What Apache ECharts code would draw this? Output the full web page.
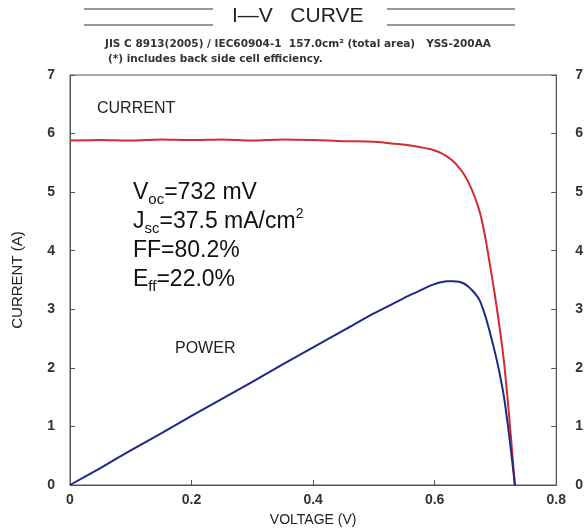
<!DOCTYPE html>
<html>
<head>
<meta charset="utf-8">
<style>
  html, body { margin: 0; padding: 0; background: #fff; }
  #chart { width: 586px; height: 532px; }
</style>
<script src="https://cdn.jsdelivr.net/npm/echarts@6/dist/echarts.min.js"></script>
</head>
<body>
<div id="chart"></div>
<script>
// values
const voltage = [0, 0.05, 0.10, 0.15, 0.20, 0.25, 0.30, 0.35, 0.40, 0.45, 0.50, 0.54, 0.56, 0.58, 0.59, 0.60, 0.61, 0.62, 0.63, 0.64, 0.648, 0.655, 0.662, 0.67, 0.675, 0.68, 0.685, 0.69, 0.695, 0.70, 0.705, 0.71, 0.714, 0.717, 0.721, 0.725, 0.729, 0.732];
const current = [5.88, 5.89, 5.88, 5.90, 5.89, 5.90, 5.88, 5.90, 5.89, 5.87, 5.86, 5.82, 5.795, 5.76, 5.74, 5.71, 5.67, 5.61, 5.53, 5.42, 5.31, 5.18, 5.02, 4.80, 4.63, 4.40, 4.13, 3.82, 3.51, 3.18, 2.83, 2.45, 2.11, 1.80, 1.36, 0.88, 0.38, 0];
const power = [0, 0.29, 0.59, 0.88, 1.18, 1.47, 1.76, 2.06, 2.35, 2.64, 2.93, 3.14, 3.245, 3.34, 3.39, 3.43, 3.46, 3.48, 3.48, 3.47, 3.44, 3.39, 3.32, 3.22, 3.13, 2.99, 2.83, 2.64, 2.44, 2.23, 2.00, 1.74, 1.51, 1.29, 0.98, 0.64, 0.28, 0];

const xTicks = [0, 0.2, 0.4, 0.6, 0.8];
const yTicks = [0, 1, 2, 3, 4, 5, 6, 7];

const chart = echarts.init(document.getElementById('chart'));

const font = 'Arial, "Liberation Sans", sans-serif';
const wideFont = '"DejaVu Sans", sans-serif';
const axisColor = '#555';
const labelStyle = { color: '#333', fontSize: 14, fontWeight: 'bold', fontFamily: font };

function pairs(ys) {
    return voltage.map((v, i) => [v, ys[i]]);
}

const option = {
    animation: false,
    backgroundColor: '#fff',
    grid: {
        left: 70, right: 29, top: 75, bottom: 46,
        show: true, borderColor: axisColor, borderWidth: 1
    },
    xAxis: {
        type: 'value',
        min: xTicks[0], max: xTicks[xTicks.length - 1], interval: 0.2,
        name: 'VOLTAGE (V)', nameLocation: 'middle', nameGap: 28,
        nameTextStyle: { color: '#222', fontSize: 14, fontFamily: font },
        axisLine: { show: true, lineStyle: { color: axisColor } },
        axisTick: { show: true, inside: true, length: 5, lineStyle: { color: axisColor } },
        axisLabel: Object.assign({ margin: 8 }, labelStyle),
        splitLine: { show: false }
    },
    yAxis: [
        {
            type: 'value', position: 'left',
            min: yTicks[0], max: yTicks[yTicks.length - 1], interval: 1,
            name: 'CURRENT (A)', nameLocation: 'middle', nameGap: 45, nameRotate: 90,
            nameTextStyle: { color: '#222', fontSize: 15, fontFamily: font },
            axisLine: { show: true, lineStyle: { color: axisColor } },
            axisTick: { show: true, inside: true, length: 5, lineStyle: { color: axisColor } },
            axisLabel: Object.assign({ margin: 15 }, labelStyle),
            splitLine: { show: false }
        },
        {
            type: 'value', position: 'right',
            min: yTicks[0], max: yTicks[yTicks.length - 1], interval: 1,
            axisLine: { show: true, lineStyle: { color: axisColor } },
            axisTick: { show: true, inside: true, length: 5, lineStyle: { color: axisColor } },
            axisLabel: Object.assign({ margin: 19 }, labelStyle),
            splitLine: { show: false }
        }
    ],
    series: [
        {
            name: 'CURRENT', type: 'line', data: pairs(current),
            showSymbol: false, smooth: 0.25,
            lineStyle: { color: '#d22b30', width: 2 }
        },
        {
            name: 'POWER', type: 'line', data: pairs(power),
            showSymbol: false, smooth: 0.25,
            lineStyle: { color: '#1c2a85', width: 2 }
        }
    ],
    graphic: [
        // title with double rules on each side
        { type: 'line', shape: { x1: 84, y1: 9, x2: 213, y2: 9 }, style: { stroke: '#333', lineWidth: 1.2 } },
        { type: 'line', shape: { x1: 84, y1: 25, x2: 213, y2: 25 }, style: { stroke: '#333', lineWidth: 1.2 } },
        { type: 'line', shape: { x1: 387, y1: 9, x2: 515, y2: 9 }, style: { stroke: '#333', lineWidth: 1.2 } },
        { type: 'line', shape: { x1: 387, y1: 25, x2: 515, y2: 25 }, style: { stroke: '#333', lineWidth: 1.2 } },
        {
            type: 'text', left: 232, top: 6,
            style: { text: 'I—V   CURVE', fill: '#222', font: '21px ' + font }
        },
        {
            type: 'text', left: 105, top: 39,
            style: { text: 'JIS C 8913(2005) / IEC60904-1  157.0cm² (total area)   YSS-200AA', fill: '#333', font: 'bold 10.5px ' + wideFont }
        },
        {
            type: 'text', left: 108, top: 54,
            style: { text: '(*) includes back side cell efficiency.', fill: '#333', font: 'bold 10.5px ' + wideFont }
        },
        {
            type: 'text', left: 97, top: 101,
            style: { text: 'CURRENT', fill: '#222', font: '16px ' + font }
        },
        {
            type: 'text', left: 175, top: 341,
            style: { text: 'POWER', fill: '#222', font: '16px ' + font }
        },
        {
            type: 'text', left: 133, top: 181,
            style: {
                text: '{n|V}{s|oc}{n|=732 mV}\n{n|J}{s|sc}{n|=37.5 mA/cm}{p|2}\n{n|FF=80.2%}\n{n|E}{s|ff}{n|=22.0%}',
                fill: '#111',
                rich: {
                    n: { fontSize: 23, lineHeight: 29, fontFamily: font, fill: '#111' },
                    s: { fontSize: 15, lineHeight: 9, verticalAlign: 'bottom', fontFamily: font, fill: '#111' },
                    p: { fontSize: 14, lineHeight: 10, verticalAlign: 'top', fontFamily: font, fill: '#111' }
                }
            }
        }
    ]
};

chart.setOption(option);
</script>
</body>
</html>
